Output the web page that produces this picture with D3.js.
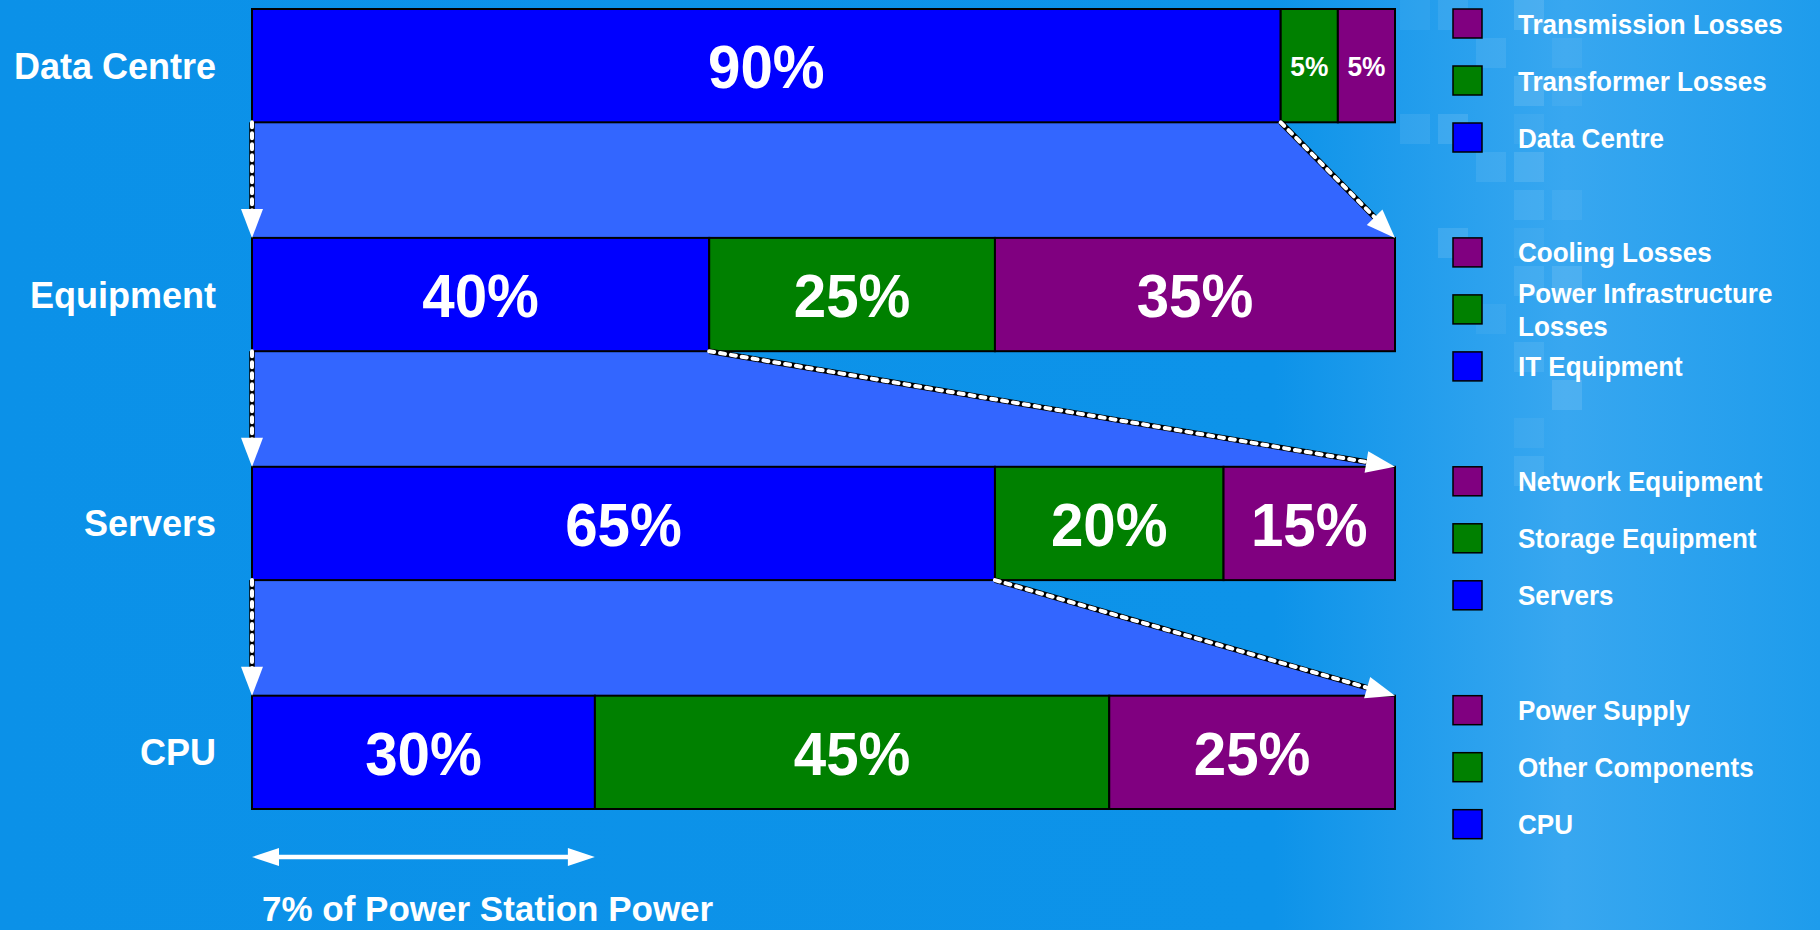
<!DOCTYPE html>
<html>
    <head>
        <meta charset="utf-8">
        <title>Data centre power breakdown</title>
        <script src="https://d3js.org/d3.v7.min.js"></script>
        <style>
            body {
                margin: 0;
                overflow: hidden;
                background: #0c92e8;
            }
            text {
                font-family: "Liberation Sans", Arial, sans-serif;
                font-weight: bold;
                fill: white;
            }
        </style>
    </head>
    <body>
        <svg id="chart" width="1820" height="930"></svg>

        <script>
            // data
            let rows = ["Data Centre", "Equipment", "Servers", "CPU"]
            let useful = [90, 40, 65, 30]
            let overhead = [5, 25, 20, 45]
            let losses = [5, 35, 15, 25]
            let legendLabels = [
                ["Transmission Losses", "Transformer Losses", "Data Centre"],
                ["Cooling Losses", "Power Infrastructure Losses", "IT Equipment"],
                ["Network Equipment", "Storage Equipment", "Servers"],
                ["Power Supply", "Other Components", "CPU"]
            ]
            let segColors = ["#0000ff", "#008000", "#800080"]
            let footShare = 30
            let footText = "7% of Power Station Power"

            let width = 1820
            let height = 930
            let svg = d3.select("#chart")

            // background
            let defs = svg.append("defs")
            let bg = defs.append("linearGradient").attr("id", "bg")
            bg.append("stop").attr("offset", "0%").attr("stop-color", "#0b91e8")
            bg.append("stop").attr("offset", "70%").attr("stop-color", "#0d93e9")
            bg.append("stop").attr("offset", "86%").attr("stop-color", "#38a7f0")
            bg.append("stop").attr("offset", "100%").attr("stop-color", "#1e9cec")
            svg.append("rect").attr("width", width).attr("height", height).attr("fill", "url(#bg)")

            // faint pixel squares decoration
            let deco = [[0,0],[1,0],[3,0],[4,1],[2,1],[3,2],[4,2],[0,3],[1,3],[3,3],[2,4],[3,4],
                        [4,5],[3,5],[1,6],[3,6],[3,7],[4,7],[2,8],[3,9],[4,10],[3,11],[3,12]]
            svg.append("g").selectAll("rect")
                .data(deco)
                .enter()
                .append("rect")
                .attr("x", d => 1400 + d[0] * 38)
                .attr("y", d => d[1] * 38)
                .attr("width", 30)
                .attr("height", 30)
                .attr("fill", "white")
                .attr("opacity", (d, i) => 0.05 + (i % 3) * 0.03)

            let x = d3.scaleLinear().domain([0, 100]).range([252, 1395])
            let y = d3.scaleBand().domain(rows).range([9, 809]).paddingInner(0.505)
            let bh = y.bandwidth()

            // funnels between rows
            let funnels = rows.slice(0, -1).map((r, i) => {
                let yb = y(r) + bh
                let yt = y(rows[i + 1])
                return [[x(0), yb], [x(useful[i]), yb], [x(100), yt], [x(0), yt]]
            })
            svg.append("g").selectAll("polygon")
                .data(funnels)
                .enter()
                .append("polygon")
                .attr("points", d => d.map(p => p.join(",")).join(" "))
                .attr("fill", "#3366ff")

            // stacked bars
            let segs = []
            rows.forEach((r, i) => {
                let vals = [useful[i], overhead[i], losses[i]]
                let start = 0
                vals.forEach((v, j) => {
                    segs.push({row: r, start: start, value: v, color: segColors[j]})
                    start += v
                })
            })
            let bars = svg.append("g")
            bars.selectAll("rect")
                .data(segs)
                .enter()
                .append("rect")
                .attr("x", d => x(d.start))
                .attr("y", d => y(d.row))
                .attr("width", d => x(d.start + d.value) - x(d.start))
                .attr("height", bh)
                .attr("fill", d => d.color)
                .attr("stroke", "black")
                .attr("stroke-width", 2)

            bars.selectAll("text")
                .data(segs)
                .enter()
                .append("text")
                .attr("transform", d => `translate(${(x(d.start) + x(d.start + d.value)) / 2},${y(d.row) + bh / 2}) scale(0.94,1)`)
                .attr("dy", "0.36em")
                .attr("text-anchor", "middle")
                .style("font-size", d => d.value < 10 ? "28px" : "62px")
                .text(d => d.value + "%")

            // dashed arrows
            function arrowHead(g, x1, y1, x2, y2, len, half, fill) {
                let a = Math.atan2(y2 - y1, x2 - x1)
                let bx = x2 - len * Math.cos(a), by = y2 - len * Math.sin(a)
                let px = -Math.sin(a) * half, py = Math.cos(a) * half
                g.append("polygon")
                    .attr("points", [[x2, y2], [bx + px, by + py], [bx - px, by - py]].map(p => p.join(",")).join(" "))
                    .attr("fill", fill)
            }
            let arrows = []
            rows.slice(0, -1).forEach((r, i) => {
                let yb = y(r) + bh
                let yt = y(rows[i + 1])
                arrows.push([x(0), yb, x(0), yt])
                arrows.push([x(useful[i]), yb, x(100), yt])
            })
            let ag = svg.append("g")
            arrows.forEach(d => {
                let a = Math.atan2(d[3] - d[1], d[2] - d[0])
                let ex = d[2] - 24 * Math.cos(a), ey = d[3] - 24 * Math.sin(a)
                ag.append("line")
                    .attr("x1", d[0]).attr("y1", d[1]).attr("x2", ex).attr("y2", ey)
                    .attr("stroke", "black").attr("stroke-width", 5.5)
                ag.append("line")
                    .attr("x1", d[0]).attr("y1", d[1]).attr("x2", ex).attr("y2", ey)
                    .attr("stroke", "white").attr("stroke-width", 4)
                    .attr("stroke-linecap", "round")
                    .attr("stroke-dasharray", "5,6")
                arrowHead(ag, d[0], d[1], d[2], d[3], 29, 11, "white")
            })

            // row labels
            svg.append("g").selectAll("text")
                .data(rows)
                .enter()
                .append("text")
                .attr("x", 216)
                .attr("y", d => y(d) + bh / 2)
                .attr("dy", "0.36em")
                .attr("text-anchor", "end")
                .style("font-size", "36px")
                .text(d => d)

            // legend
            let lg = svg.append("g")
            rows.forEach((r, i) => {
                let order = [2, 1, 0]
                legendLabels[i].forEach((lab, k) => {
                    let top = y(r) + k * 57
                    lg.append("rect")
                        .attr("x", 1453).attr("y", top)
                        .attr("width", 29).attr("height", 29)
                        .attr("fill", segColors[order[k]])
                        .attr("stroke", "black").attr("stroke-width", 1.5)
                    let t = lg.append("text")
                        .attr("transform", `translate(1518,${top + 14.5}) scale(0.93,1)`)
                        .style("font-size", "28px")
                    let lines = lab.length > 20 ? [lab.slice(0, lab.lastIndexOf(" ")), lab.slice(lab.lastIndexOf(" ") + 1)] : [lab]
                    lines.forEach((ln, m) => {
                        t.append("tspan")
                            .attr("x", 0)
                            .attr("y", (m - (lines.length - 1) / 2) * 33)
                            .attr("dy", "0.36em")
                            .text(ln)
                    })
                })
            })

            // bottom span arrow
            let fy = 857
            let fg = svg.append("g")
            fg.append("line")
                .attr("x1", x(0) + 20).attr("x2", x(footShare) - 20)
                .attr("y1", fy).attr("y2", fy)
                .attr("stroke", "white").attr("stroke-width", 4.5)
            arrowHead(fg, x(footShare), fy, x(0), fy, 27, 9, "white")
            arrowHead(fg, x(0), fy, x(footShare), fy, 27, 9, "white")
            fg.append("text")
                .attr("x", 262)
                .attr("y", 921)
                .style("font-size", "35px")
                .text(footText)
        </script>
    </body>
</html>
